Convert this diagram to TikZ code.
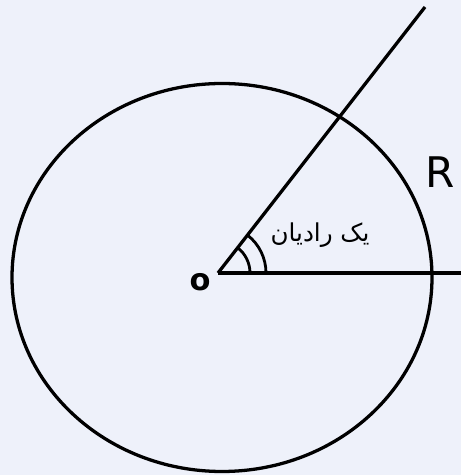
\documentclass[tikz,border=0pt]{standalone}
\usepackage{fontspec}
\setmainfont{DejaVu Sans}
\newfontfamily\arabicfont[Script=Arabic]{DejaVu Sans}
\TeXXeTstate=1
\definecolor{BackClr}{RGB}{238,241,250}
\definecolor{InkClr}{RGB}{0,0,0}

\begin{document}
\begin{tikzpicture}[x=0.03cm,y=0.03cm,line width=2.8pt,color=InkClr]
\fill[BackClr] (0,0) rectangle (461,475);
\useasboundingbox (0,0) rectangle (461,475);

\coordinate (O) at (218,202);
\coordinate (A) at (425,468);
\coordinate (B) at (461,202);

\draw (222,197.5) ellipse [x radius=210, y radius=194];

\draw (O) -- (A);
\draw (O) -- (B);

% angle marks
\draw[line width=2.4pt] ([shift=(0:32)]O) arc[start angle=0,end angle=52,radius=32];
\draw[line width=2.4pt] ([shift=(0:48)]O) arc[start angle=0,end angle=52,radius=48];

\node (lblO) at (200,193) {\fontsize{26}{26}\selectfont\bfseries o};
\node (lblR) at (440,303) {\fontsize{36}{36}\selectfont R};
\node (lblAng) at (320,240) {\fontsize{21}{21}\selectfont\arabicfont\beginR یک رادیان\endR};

\end{tikzpicture}
\end{document}
